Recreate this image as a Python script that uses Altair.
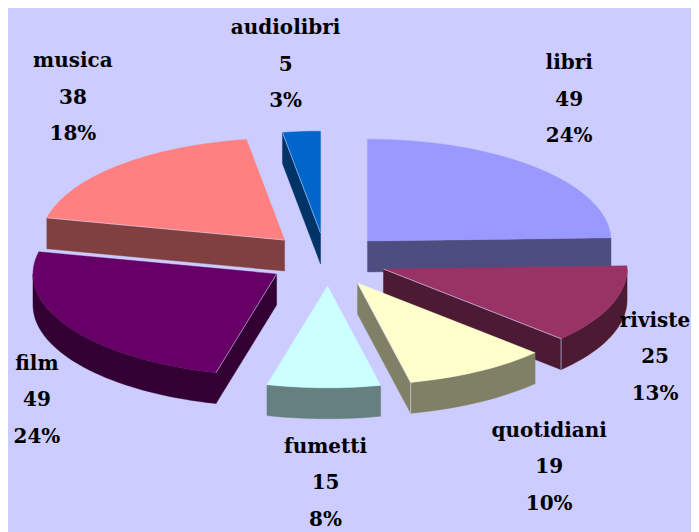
import math
import altair as alt
import pandas as pd

# Data
categories = ["libri", "riviste", "quotidiani", "fumetti", "film", "musica", "audiolibri"]
values = [49, 25, 19, 15, 49, 38, 5]
percents = ["24%", "13%", "10%", "8%", "24%", "18%", "3%"]
top_colors = ["#9999FF", "#993366", "#FFFFCC", "#CCFFFF", "#660066", "#FF8080", "#0066CC"]
wall_colors = ["#4D4D80", "#4D1A33", "#808066", "#668080", "#330033", "#804040", "#003366"]

# Pie geometry (tilted, exploded 3D pie, in picture units)
RX, RY, DEPTH = 244, 102, 31
apex_x = [368, 384, 358, 328, 277, 285, 321]
apex_y = [241, 269, 283, 286, 274, 240, 233]
label_x = [570, 656, 550, 326, 37, 73, 286]
label_y = [63, 321, 431, 447, 364, 61, 28]
LINE_STEP = 36.5
paint_order = [6, 0, 5, 1, 4, 2, 3]
BG = "#CCCCFF"
EDGE = "#D8D8FF"
H = 532
MARGIN = 8
RIGHT = 691  # the page's flex container ends here; a wider svg would be shrunk

X = alt.X("x:Q", scale=alt.Scale(domain=[MARGIN, RIGHT], nice=False, zero=False), axis=None)
Y = alt.Y("y:Q", scale=alt.Scale(domain=[H, MARGIN], nice=False, zero=False), axis=None)


def rim(i, t):
    r = math.radians(t)
    return apex_x[i] + RX * math.sin(r), apex_y[i] - RY * math.cos(r)


def polygon(points, fill):
    pts = list(points) + [points[0]]
    df = pd.DataFrame({"x": [p[0] for p in pts], "y": [p[1] for p in pts], "i": range(len(pts))})
    return alt.Chart(df).mark_line(fill=fill, stroke=fill, strokeWidth=0.4).encode(x=X, y=Y, order="i:Q")


def edge(a, b, opacity=0.8):
    df = pd.DataFrame({"x": [a[0], b[0]], "y": [a[1], b[1]], "i": [0, 1]})
    return alt.Chart(df).mark_line(stroke=EDGE, strokeWidth=0.8, opacity=opacity).encode(x=X, y=Y, order="i:Q")


total = sum(values)
starts, ends = [], []
acc = 0.0
for v in values:
    starts.append(acc)
    acc += 360 * v / total
    ends.append(acc)

layers = []
for i in paint_order:
    t0, t1 = starts[i], ends[i]
    a = (apex_x[i], apex_y[i])
    steps = max(2, int((t1 - t0) / 2))
    ts = [t0 + (t1 - t0) * k / steps for k in range(steps + 1)]
    down = lambda p: (p[0], p[1] + DEPTH)
    # visible radial side walls
    if math.sin(math.radians(t1)) > 0:
        p = rim(i, t1)
        layers.append(polygon([a, p, down(p), down(a)], wall_colors[i]))
    if math.sin(math.radians(t0)) < 0:
        p = rim(i, t0)
        layers.append(polygon([a, p, down(p), down(a)], wall_colors[i]))
    # visible outer wall (front half of the rim)
    front = [t for t in ts if 90 <= t <= 270]
    if t0 < 270 < t1:
        front.append(270)
    if t0 < 90 < t1:
        front.insert(0, 90)
    if len(front) > 1:
        upper = [rim(i, t) for t in front]
        layers.append(polygon(upper + [down(p) for p in reversed(upper)], wall_colors[i]))
    # top face
    layers.append(polygon([a] + [rim(i, t) for t in ts], top_colors[i]))
    # pale highlights along visible radial edges
    if math.sin(math.radians(t1)) > 0 and i != 0:
        p = rim(i, t1)
        layers.append(edge(a, p))
        layers.append(edge(p, down(p)))
    if math.sin(math.radians(t0)) < 0:
        layers.append(edge(a, rim(i, t0), 0.7))

rows = []
for i, name in enumerate(categories):
    for k, s in enumerate([name, str(values[i]), percents[i]]):
        rows.append({"x": label_x[i], "y": label_y[i] + k * LINE_STEP, "t": s})
labels = alt.Chart(pd.DataFrame(rows)).mark_text(
    font="DejaVu Serif", fontWeight="bold", fontSize=20, color="black", align="center", baseline="middle"
).encode(x=X, y=Y, text="t:N")

chart = alt.layer(*layers, labels).properties(
    width=RIGHT - MARGIN, height=H - MARGIN, background=BG, padding=0,
).configure_view(stroke=None)

chart.save("out.html", embed_options={"renderer": "svg", "actions": False})
